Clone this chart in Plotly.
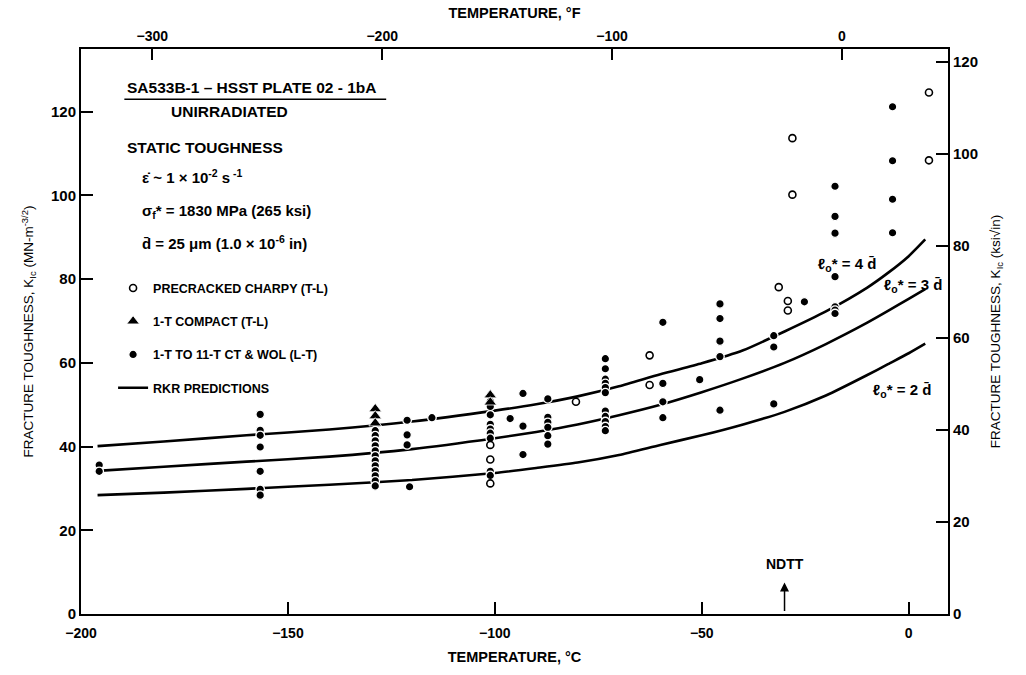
import plotly.graph_objects as go

# ---------------- data ----------------
# RKR prediction curves (temperature in C, K_Ic in MN m^-3/2)
curve_t = [-196, -180, -160, -140, -120, -100, -90, -80, -70, -60, -50, -40, -30, -20, -10, -5, 0, 4]
rkr_4d = [40.1, 41.2, 42.7, 44.1, 46.0, 48.6, 50.1, 52.0, 54.4, 57.3, 59.9, 63.0, 67.5, 72.3, 78.0, 81.5, 85.5, 89.5]
rkr_3d = [34.2, 35.2, 36.4, 37.6, 39.4, 42.0, 43.5, 45.3, 47.5, 50.0, 53.0, 56.3, 60.0, 64.5, 69.6, 72.4, 75.3, 77.6]
rkr_2d = [28.4, 29.0, 29.9, 30.9, 32.0, 33.7, 34.9, 36.2, 38.0, 40.4, 42.7, 45.3, 48.3, 52.2, 57.1, 59.7, 62.3, 64.6]

# Precracked Charpy (T-L), open circles
charpy_t = [-101.1, -101.1, -101.1, -80.4, -62.6, -62.6, -31.4, -29.2, -29.2, -28.1, -28.1, 4.9, 4.9]
charpy_k = [40.4, 36.9, 31.2, 50.7, 61.8, 54.7, 78.1, 74.8, 72.5, 113.7, 100.2, 124.6, 108.4]

# 1-T compact (T-L), filled triangles
compact_t = [-128.9, -128.9, -128.9, -101.1, -101.1]
compact_k = [49.0, 47.3, 45.6, 52.3, 50.6]

# 1-T to 11-T CT & WOL (L-T), filled circles
ct_t = ([-195.6] * 2 + [-156.7] * 7 + [-128.9] * 12 + [-121.2] * 3 + [-120.6, -115.2]
        + [-101.1] * 9 + [-96.3] + [-93.2] * 3 + [-87.2] * 6 + [-73.3] * 11
        + [-59.4] * 4 + [-50.5] + [-45.6] * 5 + [-32.6] * 3 + [-25.2] + [-17.8] * 7 + [-3.9] * 4)
ct_k = ([35.6, 34.1]
        + [47.7, 43.9, 42.7, 39.9, 34.1, 29.8, 28.4]
        + [43.8, 42.6, 41.4, 40.2, 39.0, 37.8, 36.6, 35.4, 34.2, 33.0, 31.8, 30.6]
        + [46.3, 42.8, 40.4] + [30.4, 46.9]
        + [50.8, 49.6, 47.6, 45.3, 44.2, 43.2, 42.0, 34.1, 33.1]
        + [46.7] + [52.7, 44.9, 38.1]
        + [51.4, 47.0, 45.8, 44.6, 42.6, 40.6]
        + [61.0, 58.6, 56.1, 55.1, 54.1, 52.9, 48.5, 47.2, 46.0, 44.8, 43.8]
        + [69.7, 55.1, 50.7, 46.9] + [56.0]
        + [74.1, 70.6, 65.2, 61.5, 48.7]
        + [66.5, 63.8, 50.2] + [74.6]
        + [102.2, 95.0, 91.0, 80.6, 73.4, 72.6, 71.8]
        + [121.2, 108.3, 99.1, 91.1])

x_range_c = [-200, 9.5]
y_range_mpa = [0, 135]
x_ticks_c = [-200, -150, -100, -50, 0]
x_ticks_f = [-300, -200, -100, 0]
y_ticks_mpa = [0, 20, 40, 60, 80, 100, 120]
y_ticks_ksi = [0, 20, 40, 60, 80, 100, 120]
ndtt_t = -30

KSI_TO_MPA = 1.0988
F_AXIS_OFFSET = -3.0  # the scanned original's °F scale sits slightly right of the exact conversion


def c2f(c):
    return c * 9 / 5 + 32


FONT = "Liberation Sans, Arial, sans-serif"
NARROW = "Liberation Sans Narrow, Arial Narrow, Liberation Sans, Arial, sans-serif"

fig = go.Figure()

# RKR curves
for i, vals in enumerate([rkr_4d, rkr_3d, rkr_2d]):
    fig.add_trace(go.Scatter(
        x=curve_t, y=vals, mode="lines",
        line=dict(color="black", width=2.6, shape="spline", smoothing=0.6),
        name="RKR PREDICTIONS", showlegend=(i == 0), legendgroup="rkr", legendrank=4,
        hoverinfo="skip"))

fig.add_trace(go.Scatter(
    x=ct_t, y=ct_k, mode="markers", name="1-T TO 11-T CT & WOL (L-T)",
    marker=dict(symbol="circle", size=8.5, color="black", line=dict(color="white", width=1.3)),
    legendgroup="ct", legendrank=3))
fig.add_trace(go.Scatter(
    x=compact_t, y=compact_k, mode="markers", name="1-T COMPACT (T-L)",
    marker=dict(symbol="triangle-up", size=11, color="black", line=dict(color="white", width=0.8)),
    legendgroup="compact", legendrank=2))
fig.add_trace(go.Scatter(
    x=charpy_t, y=charpy_k, mode="markers", name="PRECRACKED CHARPY (T-L)",
    marker=dict(symbol="circle", size=7, color="white", line=dict(color="black", width=1.6)),
    legendgroup="charpy", legendrank=1))

# invisible trace to carry the secondary (°F / ksi) axes
fig.add_trace(go.Scatter(
    x=[c2f(x_range_c[0])], y=[0], xaxis="x2", yaxis="y2", mode="markers",
    marker=dict(opacity=0), showlegend=False, hoverinfo="skip"))

fig.update_layout(
    width=1026, height=675,
    margin=dict(l=81, r=78, t=48, b=60),
    paper_bgcolor="white", plot_bgcolor="white",
    font=dict(family=FONT, color="black"),
    showlegend=True,
    legend=dict(x=0.037, y=0.603, xanchor="left", yanchor="top", bgcolor="rgba(0,0,0,0)",
                font=dict(family=FONT, size=12.5, color="black", weight="bold"),
                tracegroupgap=14, itemwidth=30),
    xaxis=dict(range=x_range_c, tickvals=x_ticks_c, ticks="inside", ticklen=12, tickwidth=1.5,
               tickcolor="black", showline=True, linecolor="black", linewidth=2,
               showgrid=False, zeroline=False, ticklabelstandoff=5,
               tickfont=dict(family=NARROW, size=14, color="black", weight="bold"),
               title=dict(text="TEMPERATURE, °C", standoff=12,
                          font=dict(family=NARROW, size=14.5, color="black", weight="bold"))),
    xaxis2=dict(range=[c2f(x_range_c[0]) + F_AXIS_OFFSET, c2f(x_range_c[1]) + F_AXIS_OFFSET],
                tickvals=x_ticks_f,
                overlaying="x", side="top", anchor="y2", ticks="inside", ticklen=11, tickwidth=1.5,
                tickcolor="black", showline=True, linecolor="black", linewidth=2,
                showgrid=False, zeroline=False,
                tickfont=dict(family=NARROW, size=14, color="black", weight="bold"),
                title=dict(text="TEMPERATURE, °F", standoff=6,
                           font=dict(family=NARROW, size=14.5, color="black", weight="bold"))),
    yaxis=dict(range=y_range_mpa, tickvals=y_ticks_mpa, ticks="inside", ticklen=12, tickwidth=1.5,
               tickcolor="black", showline=True, linecolor="black", linewidth=2,
               showgrid=False, zeroline=False,
               tickfont=dict(family=FONT, size=15, color="black", weight="bold"),
               title=dict(text="FRACTURE TOUGHNESS, K<sub>Ic</sub> (MN-m<sup>-3/2</sup>)", standoff=14,
                          font=dict(family=FONT, size=13.5, color="black"))),
    yaxis2=dict(range=[y_range_mpa[0] / KSI_TO_MPA, y_range_mpa[1] / KSI_TO_MPA], tickvals=y_ticks_ksi,
                overlaying="y", side="right", anchor="x2", ticks="inside", ticklen=12, tickwidth=1.5,
                tickcolor="black", showline=True, linecolor="black", linewidth=2,
                showgrid=False, zeroline=False,
                tickfont=dict(family=FONT, size=15, color="black", weight="bold"),
                title=dict(text="FRACTURE TOUGHNESS, K<sub>Ic</sub> (ksi√in)", standoff=14,
                           font=dict(family=FONT, size=13.5, color="black"))),
)


# text block (upper left)
def ptxt(text, x, y, size=15, bold=True, xanchor="left"):
    fig.add_annotation(text=text, xref="paper", yref="paper", x=x, y=y, xanchor=xanchor,
                       yanchor="middle", showarrow=False,
                       font=dict(family=FONT, size=size, color="black", weight="bold" if bold else "normal"))


ptxt("SA533B-1 – HSST PLATE 02 - 1bA", 0.0507, 0.931, size=15.5)
fig.add_shape(type="line", xref="paper", yref="paper", x0=0.050, x1=0.352, y0=0.911, y1=0.911,
              line=dict(color="black", width=1.5))
ptxt("UNIRRADIATED", 0.1015, 0.889, size=15.5)
ptxt("STATIC TOUGHNESS", 0.0507, 0.825, size=15.5)
ptxt("ε̇ ~ 1 × 10<sup>-2</sup> s<sup> -1</sup>", 0.068, 0.774)
ptxt("σ<sub>f</sub>* = 1830 MPa (265 ksi)", 0.068, 0.7125)
ptxt("d̄ = 25 μm (1.0 × 10<sup>-6</sup> in)", 0.068, 0.658)

# curve labels
for txt, x, y in [("ℓ<sub>o</sub>* = 4 d̄", -15, 83.5), ("ℓ<sub>o</sub>* = 3 d̄", 1.0, 78.5),
                  ("ℓ<sub>o</sub>* = 2 d̄", -1.5, 53.4)]:
    fig.add_annotation(text=txt, x=x, y=y, xref="x", yref="y", showarrow=False,
                       font=dict(family=FONT, size=15, color="black", weight="bold"))

# NDTT arrow
fig.add_annotation(x=ndtt_t, y=7.5, xref="x", yref="y", ax=0, ay=30, axref="pixel", ayref="pixel",
                   text="", showarrow=True, arrowhead=2, arrowsize=1.2, arrowwidth=1.5, arrowcolor="black")
fig.add_annotation(x=ndtt_t, y=12, xref="x", yref="y", text="NDTT", showarrow=False,
                   font=dict(family=NARROW, size=14, color="black", weight="bold"))

fig.write_html("out.html")
